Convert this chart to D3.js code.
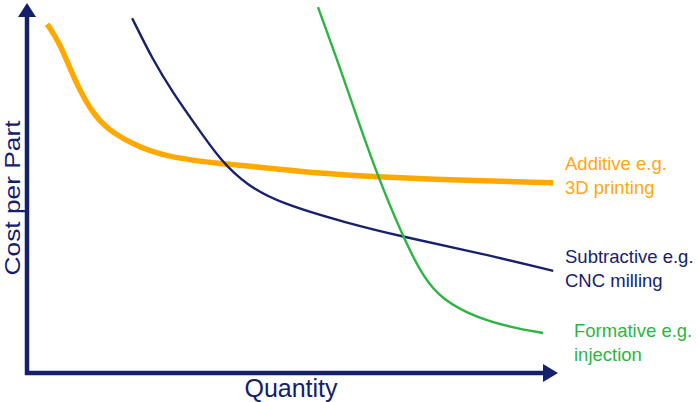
<!DOCTYPE html>
<html>
<head>
<meta charset="utf-8">
<script src="https://cdn.jsdelivr.net/npm/d3@7"></script>
<style>
  body { margin: 0; background: #fff; }
  text { font-family: "Liberation Sans", Arial, sans-serif; }
</style>
</head>
<body>
<div id="chart"></div>
<script>
// quantity (0-100) vs cost per part (0-100)
var additiveX = [3.8, 6.2, 8.7, 11.9, 15.1, 21.3, 27.5, 36.9, 45.8, 53.9, 65.9, 85.3, 99.1];
var additiveY = [94.3, 89.2, 80.0, 71.1, 65.7, 60.8, 58.1, 56.5, 55.4, 54.1, 53.0, 51.9, 51.4];

var subtractiveX = [19.8, 23.7, 27.5, 32.0, 36.7, 41.4, 47.6, 60.3, 70.8, 85.3, 99.1];
var subtractiveY = [95.9, 84.6, 75.7, 66.5, 57.0, 50.8, 45.9, 40.5, 36.8, 32.4, 27.6];

var formativeX = [54.8, 58.9, 62.1, 66.1, 70.8, 74.6, 78.3, 84.7, 91.0, 97.2];
var formativeY = [98.9, 82.7, 69.2, 53.0, 36.8, 25.9, 19.7, 14.9, 12.4, 10.8];

var labels = [
    { name: "additive", lines: ["Additive e.g.", "3D printing"], color: "#ffa70f", x: 565, y: 170 },
    { name: "subtractive", lines: ["Subtractive e.g.", "CNC milling"], color: "#17216b", x: 565, y: 263 },
    { name: "formative", lines: ["Formative e.g.", "injection"], color: "#2db443", x: 574, y: 337 }
];

var width = 698, height = 402;
var navy = "#14206c";

var svg = d3.select("#chart").append("svg")
    .attr("width", width)
    .attr("height", height);

var x = d3.scaleLinear().domain([0, 100]).range([27, 558]);
var y = d3.scaleLinear().domain([0, 100]).range([373, 3]);

var line = d3.line()
    .x(function(d) { return x(d[0]); })
    .y(function(d) { return y(d[1]); })
    .curve(d3.curveBasis);

var series = [
    { name: "additive", xs: additiveX, ys: additiveY, color: "#ffa800", w: 5.5 },
    { name: "subtractive", xs: subtractiveX, ys: subtractiveY, color: "#17216b", w: 2.4 },
    { name: "formative", xs: formativeX, ys: formativeY, color: "#2db443", w: 2.4 }
];

svg.selectAll("path.curve")
    .data(series)
    .enter().append("path")
        .attr("class", "curve")
        .attr("fill", "none")
        .attr("stroke", function(d) { return d.color; })
        .attr("stroke-width", function(d) { return d.w; })
        .attr("d", function(d) {
            return line(d.xs.map(function(v, i) { return [v, d.ys[i]]; }));
        });

// axes with arrow heads
var x0 = x.range()[0], x1 = x.range()[1];
var y0 = y.range()[0], y1 = y.range()[1];

svg.append("path")
    .attr("fill", "none")
    .attr("stroke", navy)
    .attr("stroke-width", 4.5)
    .attr("d", "M" + x0 + "," + (y1 + 12) + "V" + y0 + "H" + (x1 - 12));

svg.append("path")
    .attr("fill", navy)
    .attr("d", "M" + x0 + "," + y1 + "L" + (x0 + 9) + "," + (y1 + 14) + "L" + (x0 - 9) + "," + (y1 + 14) + "Z");

svg.append("path")
    .attr("fill", navy)
    .attr("d", "M" + x1 + "," + y0 + "L" + (x1 - 15) + "," + (y0 - 9) + "L" + (x1 - 15) + "," + (y0 + 9) + "Z");

svg.append("text")
    .attr("x", 291)
    .attr("y", 397)
    .attr("text-anchor", "middle")
    .attr("font-size", 25)
    .attr("fill", navy)
    .text("Quantity");

svg.append("text")
    .attr("transform", "translate(20,198) rotate(-90)")
    .attr("text-anchor", "middle")
    .attr("font-size", 22)
    .attr("textLength", 155)
    .attr("lengthAdjust", "spacingAndGlyphs")
    .attr("fill", navy)
    .text("Cost per Part");

var lab = svg.selectAll("text.label")
    .data(labels)
    .enter().append("text")
        .attr("class", "label")
        .attr("x", function(d) { return d.x; })
        .attr("y", function(d) { return d.y; })
        .attr("font-size", 18.5)
        .attr("fill", function(d) { return d.color; });

lab.selectAll("tspan")
    .data(function(d) { return d.lines.map(function(t, i) { return { t: t, i: i, x: d.x }; }); })
    .enter().append("tspan")
        .attr("x", function(d) { return d.x; })
        .attr("dy", function(d) { return d.i ? 23.5 : 0; })
        .text(function(d) { return d.t; });
</script>
</body>
</html>
